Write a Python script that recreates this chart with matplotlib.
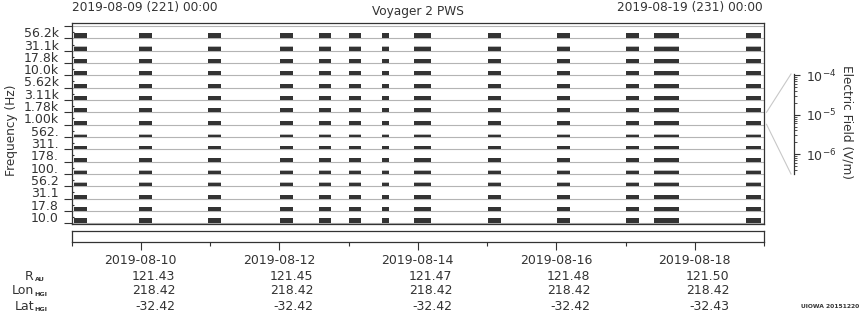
import datetime as dt
import numpy as np
import matplotlib
matplotlib.use('Agg')
import matplotlib.pyplot as plt
import matplotlib.dates as mdates
from matplotlib.lines import Line2D
from matplotlib.ticker import FixedLocator, NullFormatter, LogLocator
from matplotlib.transforms import blended_transform_factory

# frequency channels, bottom to top
freq_labels = ['10.0', '17.8', '31.1', '56.2', '100.', '178.', '311.', '562.',
               '1.00k', '1.78k', '3.11k', '5.62k', '10.0k', '17.8k', '31.1k', '56.2k']
# trace thickness per channel (fraction of band) and faint part above it
bar_height = [0.41, 0.32, 0.32, 0.24, 0.24, 0.32, 0.24, 0.16,
              0.32, 0.32, 0.32, 0.32, 0.32, 0.32, 0.30, 0.41]
cap_height = [0, 0, 0, 0.08, 0.08, 0, 0, 0.08,
              0, 0, 0, 0, 0, 0, 0.08, 0]

# data coverage (tracking passes)
pass_start = ['2019-08-09 01:00', '2019-08-09 23:25', '2019-08-10 23:20', '2019-08-12 00:20',
              '2019-08-12 13:50', '2019-08-13 00:10', '2019-08-13 11:40', '2019-08-13 22:50',
              '2019-08-15 00:25', '2019-08-16 00:25', '2019-08-17 00:20', '2019-08-17 10:00',
              '2019-08-18 17:55']
pass_end = ['2019-08-09 05:30', '2019-08-10 03:55', '2019-08-11 03:50', '2019-08-12 04:50',
            '2019-08-12 18:00', '2019-08-13 04:25', '2019-08-13 14:05', '2019-08-14 04:40',
            '2019-08-15 04:55', '2019-08-16 04:55', '2019-08-17 04:50', '2019-08-17 18:40',
            '2019-08-18 22:50']

tick_dates = ['2019-08-10', '2019-08-12', '2019-08-14', '2019-08-16', '2019-08-18']
r_au = [121.43, 121.45, 121.47, 121.48, 121.50]
lon_hgi = [218.42, 218.42, 218.42, 218.42, 218.42]
lat_hgi = [-32.42, -32.42, -32.42, -32.42, -32.43]

dark = '#333333'
plt.rcParams.update({
    'font.family': 'DejaVu Sans',
    'font.size': 8.7,
    'text.color': dark,
    'axes.edgecolor': dark,
    'xtick.color': dark,
    'ytick.color': dark,
    'axes.linewidth': 0.9,
})

W, H = 860, 320
def fx(px):
    return px / W
def fy(py):
    return 1 - py / H

t0 = dt.datetime(2019, 8, 9)
t1 = dt.datetime(2019, 8, 19)
fmt = '%Y-%m-%d %H:%M'
starts = mdates.date2num([dt.datetime.strptime(s, fmt) for s in pass_start])
ends = mdates.date2num([dt.datetime.strptime(s, fmt) for s in pass_end])
xranges = list(zip(starts, ends - starts))

fig = plt.figure(figsize=(8.6, 3.2), dpi=100)

# main panel
ax = fig.add_axes([fx(71.5), fy(224), fx(764) - fx(71.5), fy(23.3) - fy(224)])
for i in range(17):
    ax.axhline(i, color='#b4b4b4', lw=0.8, zorder=1)
for i in range(16):
    ax.broken_barh(xranges, (i, bar_height[i]), facecolors=dark, linewidth=0, zorder=2)
    if cap_height[i] > 0:
        ax.broken_barh(xranges, (i + bar_height[i], cap_height[i]),
                       facecolors='#b8b8b8', linewidth=0, zorder=2)
ax.set_xlim(mdates.date2num(t0), mdates.date2num(t1))
ax.set_ylim(-0.06, 16.22)
ax.set_yticks(range(17))
ax.set_yticklabels([])
ax.set_yticks(np.arange(16) + 0.5, minor=True)
ax.set_yticklabels(freq_labels, minor=True)
ax.tick_params(axis='y', which='major', direction='out', length=5.8, width=0.8)
ax.tick_params(axis='y', which='minor', direction='in', length=1.5, width=0.8, pad=9,
               labelsize=9)
ax.tick_params(axis='x', bottom=False, labelbottom=False)

# lower time axis
ax2 = fig.add_axes([fx(71.5), fy(242), fx(764) - fx(71.5), fy(231) - fy(242)])
ax2.set_xlim(mdates.date2num(t0), mdates.date2num(t1))
ax2.set_yticks([])
tick_x = mdates.date2num([dt.datetime.strptime(s, '%Y-%m-%d') for s in tick_dates])
ax2.xaxis.set_major_locator(FixedLocator(tick_x))
ax2.xaxis.set_minor_locator(mdates.DayLocator())
ax2.tick_params(axis='x', which='major', direction='out', length=6, width=0.8, labelbottom=False)
ax2.tick_params(axis='x', which='minor', direction='out', length=3, width=0.8)

trans = blended_transform_factory(ax2.transData, fig.transFigure)
for k, x in enumerate(tick_x):
    fig.text(x, fy(261), tick_dates[k], ha='center', va='center', transform=trans, fontsize=9)
    fig.text(x + 0.497, fy(276), f'{r_au[k]:.2f}', ha='right', va='center', transform=trans, fontsize=9)
    fig.text(x + 0.497, fy(291), f'{lon_hgi[k]:.2f}', ha='right', va='center', transform=trans, fontsize=9)
    fig.text(x + 0.497, fy(306), f'{lat_hgi[k]:.2f}', ha='right', va='center', transform=trans, fontsize=9)

# row names with small bold subscripts
for name, sub, yy in [('R', 'AU', 276), ('Lon', 'HGI', 291), ('Lat', 'HGI', 306)]:
    fig.text(fx(34), fy(yy), name, ha='right', va='center', fontsize=9)
    fig.text(fx(34.5), fy(yy + 3.5), sub, ha='left', va='center', fontsize=4.6,
             fontweight='bold')

# electric field scale
axc = fig.add_axes([fx(794.3), fy(174), fx(800) - fx(794.3), fy(74) - fy(174)])
axc.set_yscale('log')
axc.set_ylim(10 ** -6.5, 10 ** -3.97)
for s in ['top', 'right', 'bottom']:
    axc.spines[s].set_visible(False)
axc.set_xticks([])
axc.patch.set_alpha(0)
axc.yaxis.set_major_locator(LogLocator(base=10))
axc.yaxis.set_minor_locator(LogLocator(base=10, subs=np.arange(2, 10)))
axc.yaxis.set_minor_formatter(NullFormatter())
axc.tick_params(axis='y', which='both', direction='in', left=True, right=False,
                labelleft=False, labelright=True, pad=4.3, labelsize=9)
axc.tick_params(axis='y', which='major', length=4.3, width=0.8)
axc.tick_params(axis='y', which='minor', length=2.2, width=0.6)
fig.text(fx(847.5), fy(122), 'Electric Field (V/m)', rotation=270, ha='center', va='center',
         fontsize=8.7)

fig.add_artist(Line2D([fx(766.5), fx(791)], [fy(112.3), fy(74)], color='#c8c8c8', lw=0.8))
fig.add_artist(Line2D([fx(766.5), fx(791)], [fy(124.3), fy(174)], color='#c8c8c8', lw=0.8))

# header
fig.text(fx(72), fy(7.5), '2019-08-09 (221) 00:00', ha='left', va='center')
fig.text(fx(418), fy(11), 'Voyager 2 PWS', ha='center', va='center')
fig.text(fx(763), fy(7.5), '2019-08-19 (231) 00:00', ha='right', va='center')
fig.text(fx(12), fy(130), 'Frequency (Hz)', rotation=90, ha='center', va='center')
fig.text(fx(859), fy(307), 'UIOWA 20151220', ha='right', va='center', fontsize=4.3,
         fontweight='bold')

fig.savefig('out.png', dpi=100)
